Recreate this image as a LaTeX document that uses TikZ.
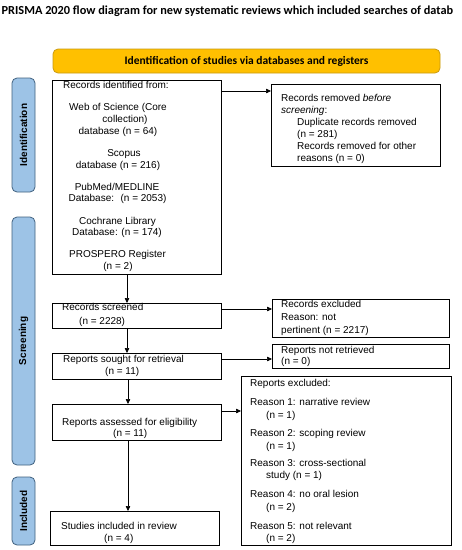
\documentclass[tikz,border=0pt]{standalone}
\usepackage{fontspec}
\setmainfont{Liberation Sans}
\newfontfamily\calib{Carlito}
\usetikzlibrary{arrows.meta}
\definecolor{sidefill}{HTML}{9DC3E6}
\definecolor{sideborder}{HTML}{41617F}
\definecolor{banfill}{HTML}{FFC000}
\definecolor{banborder}{HTML}{C99A12}
\begin{document}
\begin{tikzpicture}[x=1pt,y=-1pt,
 box/.style={draw=black,line width=0.8pt,inner sep=0pt,anchor=north west},
 txt/.style={anchor=mid west,inner sep=0pt,font=\fontsize{10}{12}\selectfont},
 ctxt/.style={anchor=mid,inner sep=0pt,font=\fontsize{10}{12}\selectfont},
 side/.style={draw=sideborder,fill=sidefill,rounded corners=5pt,line width=0.8pt,inner sep=0pt,rotate=90,font=\bfseries\fontsize{10}{12}\selectfont},
 arr/.style={draw=black,line width=0.6pt,-{Triangle[length=5pt,width=4.5pt]}}]
\clip (0,0) rectangle (462,550);
\fill[white] (0,0) rectangle (462,550);
% title
\node[anchor=mid west,inner sep=0pt,font=\calib\bfseries\fontsize{12.3}{14}\selectfont] (title) at (1.5,12) {PRISMA 2020 flow diagram for new systematic reviews which included searches of datab};
% banner
\node[draw=banborder,fill=banfill,line width=0.8pt,rounded corners=5pt,inner sep=0pt,minimum width=387pt,minimum height=24pt,font=\calib\bfseries\fontsize{11.5}{13}\selectfont] (ban) at (246.5,61) {Identification of studies via databases and registers};
% side labels
\node[side,minimum width=114pt,minimum height=23pt] (sid) at (23.5,135) {Identification};
\node[side,minimum width=248pt,minimum height=23pt] (sscr) at (23.5,341) {Screening};
\node[side,minimum width=68pt,minimum height=23pt] (sinc) at (23.5,511) {Included};
% boxes
\node[box,minimum width=169pt,minimum height=194pt] (rid) at (52,80) {};
\node[box,minimum width=169pt,minimum height=82pt] (rrem) at (271,84) {};
\node[box,minimum width=169pt,minimum height=25pt] (rs) at (52,303) {};
\node[box,minimum width=177pt,minimum height=38pt] (rex) at (272,299) {};
\node[box,minimum width=169pt,minimum height=26pt] (rsr) at (52,353) {};
\node[box,minimum width=177pt,minimum height=24pt] (rnr) at (272,344) {};
\node[box,minimum width=169pt,minimum height=36pt] (rae) at (52,404) {};
\node[box,minimum width=210pt,minimum height=169pt] (rexc) at (241,376) {};
\node[box,minimum width=169pt,minimum height=34pt] (sinr) at (50,511) {};
% texts: records identified
\node[txt] (t1) at (63,86) {Records identified from:};
\node[ctxt] (t2) at (118,108) {Web of Science (Core};
\node[ctxt] (t3) at (125,120) {collection)};
\node[ctxt] (t4) at (118,132) {database (n = 64)};
\node[ctxt] (t5) at (124,154) {Scopus};
\node[ctxt] (t6) at (118,166) {database (n = 216)};
\node[ctxt] (t7) at (117,188) {PubMed/MEDLINE};
\node[ctxt] (t8) at (117.5,199) {Database:~ (n = 2053)};
\node[ctxt] (t9) at (117.5,222) {Cochrane Library};
\node[ctxt] (t10) at (117,233) {Database: (n = 174)};
\node[ctxt] (t11) at (117.5,255) {PROSPERO Register};
\node[ctxt] (t12) at (118,267) {(n = 2)};
% records removed
\node[txt] (u1) at (281,99) {Records removed \textit{before}};
\node[txt] (u2) at (281,111) {\textit{screening}:};
\node[txt] (u3) at (297,123) {Duplicate records removed};
\node[txt] (u4) at (297,135) {(n = 281)};
\node[txt] (u5) at (297,147) {Records removed for other};
\node[txt] (u6) at (297,159) {reasons (n = 0)};
% screened
\node[txt] (v1) at (62,308) {Records screened};
\node[txt] (v2) at (79,322) {(n = 2228)};
\node[txt] (w1) at (281,305) {Records excluded};
\node[txt] (w2) at (281,318) {Reason: not};
\node[txt] (w3) at (281,331) {pertinent (n = 2217)};
% sought
\node[txt] (x1) at (63,360) {Reports sought for retrieval};
\node[txt] (x2) at (105,372) {(n = 11)};
\node[txt] (y1) at (281,351) {Reports not retrieved};
\node[txt] (y2) at (281,362) {(n = 0)};
% assessed
\node[txt] (z1) at (62,423) {Reports assessed for eligibility};
\node[txt] (z2) at (113,434) {(n = 11)};
% reports excluded
\node[txt] (e0) at (250,384) {Reports excluded:};
\node[txt] (e1) at (250,403) {Reason 1: narrative review};
\node[txt] (e1n) at (266,416) {(n = 1)};
\node[txt] (e2) at (250,434) {Reason 2: scoping review};
\node[txt] (e2n) at (266,447) {(n = 1)};
\node[txt] (e3) at (250,464) {Reason 3: cross-sectional};
\node[txt] (e3n) at (266,476) {study (n = 1)};
\node[txt] (e4) at (250,495) {Reason 4: no oral lesion};
\node[txt] (e4n) at (266,508) {(n = 2)};
\node[txt] (e5) at (250,527) {Reason 5: not relevant};
\node[txt] (e5n) at (266,539) {(n = 2)};
% included
\node[txt] (s1) at (61,527) {Studies included in review};
\node[txt] (s2) at (104,539) {(n = 4)};
% connectors
\draw[arr] ([yshift=-11pt]rid.north east) -- ([yshift=-11pt]rid.north east -| rrem.west);
\draw[arr] ([xshift=75pt]rid.south west) -- ([xshift=75pt]rs.north west);
\draw[arr] ([yshift=-6pt]rs.north east) -- ([yshift=-6pt]rs.north east -| rex.west);
\draw[arr] ([xshift=75pt]rs.south west) -- ([xshift=75pt]rsr.north west);
\draw[arr] ([yshift=-6pt]rsr.north east) -- ([yshift=-6pt]rsr.north east -| rnr.west);
\draw[arr] ([xshift=76pt]rsr.south west) -- ([xshift=76pt]rae.north west);
\draw[arr] ([yshift=-7pt]rae.north east) -- ([yshift=-7pt]rae.north east -| rexc.west);
\draw[arr] ([xshift=76pt]rae.south west) -- ([xshift=78pt]sinr.north west);
\end{tikzpicture}
\end{document}
